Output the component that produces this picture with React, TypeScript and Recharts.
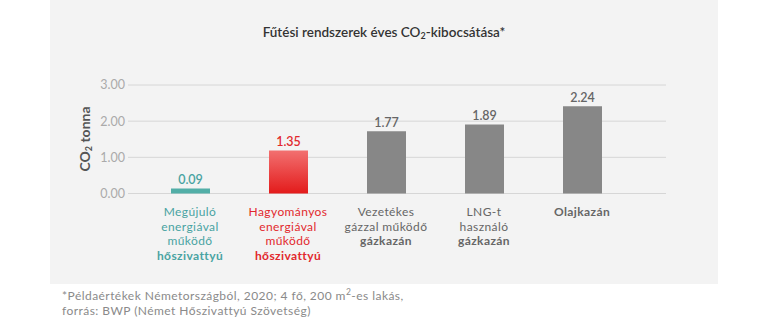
import React from "react";
import { BarChart, Bar, XAxis, YAxis, CartesianGrid, Cell, LabelList } from "recharts";

const categoryLines: string[][] = [
  ["Megújuló", "energiával", "működő", "hőszivattyú"],
  ["Hagyományos", "energiával", "működő", "hőszivattyú"],
  ["Vezetékes", "gázzal működő", "gázkazán"],
  ["LNG-t", "használó", "gázkazán"],
  ["Olajkazán"],
];
const barValues = [0.14, 1.19, 1.72, 1.91, 2.41];
const valueLabels = ["0.09", "1.35", "1.77", "1.89", "2.24"];
const kinds = ["teal", "red", "gray", "gray", "gray"];
const yTicks = [0, 1, 2, 3];

const barFill: Record<string, string> = { teal: "#52aea7", red: "url(#redGrad)", gray: "#878787" };
const textFill: Record<string, string> = { teal: "#49a3a2", red: "#e2282d", gray: "#666666" };

const data = categoryLines.map((lines, i) => ({
  name: lines.join(" "),
  value: barValues[i],
  label: valueLabels[i],
  kind: kinds[i],
}));

const FONT = "Lato, 'Noto Sans', sans-serif";

const XTick = (props: any) => {
  const { x, y, payload } = props;
  const i = payload.index;
  const lines = categoryLines[i];
  const color = textFill[kinds[i]];
  return (
    <text x={x} y={y + 22.5} textAnchor="middle" fill={color} fontSize={12} letterSpacing={0.4} fontFamily={FONT}>
      {lines.map((ln, j) => (
        <tspan key={j} x={x} dy={j === 0 ? 0 : 14.5} fontWeight={j === lines.length - 1 ? 700 : 400}>
          {ln}
        </tspan>
      ))}
    </text>
  );
};

const ValueLabel = (props: any) => {
  const { x, y, width, index } = props;
  return (
    <text
      x={x + width / 2}
      y={y - 4.5}
      textAnchor="middle"
      fill={textFill[kinds[index]]}
      fontSize={12.5}
      fontWeight={600}
      fontFamily={FONT}
    >
      {valueLabels[index]}
    </text>
  );
};

export default function App() {
  return (
    <div style={{ position: "absolute", left: 0, top: 0, width: 768, height: 323, background: "#fff", fontFamily: FONT }}>
      <div style={{ position: "absolute", left: 50, top: 0, width: 668, height: 284, background: "#f3f3f3" }} />
      <div
        style={{
          position: "absolute",
          left: 0,
          width: 768,
          top: 23,
          textAlign: "center",
          fontSize: 13.5,
          fontWeight: 600,
          color: "#333",
          lineHeight: "18px",
        }}
      >
        Fűtési rendszerek éves CO<sub style={{ fontSize: 9, verticalAlign: "-2px", lineHeight: 0 }}>2</sub>-kibocsátása*
      </div>
      <div
        style={{
          position: "absolute",
          left: 85,
          top: 139,
          transform: "translate(-50%, -50%) rotate(-90deg)",
          whiteSpace: "nowrap",
          fontSize: 14,
          fontWeight: 700,
          color: "#555",
          lineHeight: "16px",
        }}
      >
        CO<sub style={{ fontSize: 9, verticalAlign: "-2px", lineHeight: 0 }}>2</sub> tonna
      </div>
      <div style={{ position: "absolute", left: 0, top: 0 }}>
        <BarChart
          width={768}
          height={323}
          data={data}
          margin={{ top: 85, right: 102, bottom: 69.5, left: 0 }}
          style={{ fontFamily: FONT }}
        >
          <defs>
            <linearGradient id="redGrad" x1="0" y1="0" x2="0" y2="1">
              <stop offset="0%" stopColor="#f27070" />
              <stop offset="100%" stopColor="#e31b1b" />
            </linearGradient>
          </defs>
          <CartesianGrid vertical={false} stroke="#d6d6d6" strokeWidth={1} />
          <XAxis
            dataKey="name"
            axisLine={false}
            tickLine={false}
            tickSize={0}
            tickMargin={0}
            height={60}
            interval={0}
            padding={{ left: 13, right: 35 }}
            tick={<XTick />}
          />
          <YAxis
            width={128}
            domain={[0, 3]}
            ticks={yTicks}
            axisLine={false}
            tickLine={false}
            tickSize={0}
            tickMargin={3}
            tickFormatter={(v: number) => v.toFixed(2)}
            tick={{ fill: "#aaaaaa", fontSize: 12.5, fontFamily: FONT }}
          />
          <Bar dataKey="value" barSize={39} isAnimationActive={false}>
            {data.map((d, i) => (
              <Cell key={i} fill={barFill[d.kind]} />
            ))}
            <LabelList dataKey="label" content={<ValueLabel />} />
          </Bar>
        </BarChart>
      </div>
      <div
        style={{
          position: "absolute",
          left: 62,
          top: 289,
          fontSize: 12,
          letterSpacing: 0.45,
          color: "#8a8a8a",
          lineHeight: "14.5px",
          whiteSpace: "nowrap",
        }}
      >
        *Példaértékek Németországból, 2020; 4 fő, 200 m<sup style={{ fontSize: 8.5, verticalAlign: "5px", lineHeight: 0 }}>2</sup>-es lakás,
        <br />
        forrás: BWP (Német Hőszivattyú Szövetség)
      </div>
    </div>
  );
}
